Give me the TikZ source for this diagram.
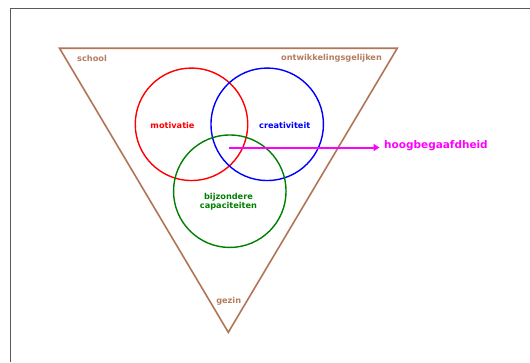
\documentclass[tikz,border=0pt]{standalone}
\usepackage{fontspec}
\setmainfont{DejaVu Sans}
\usetikzlibrary{arrows.meta}
\definecolor{frame}{RGB}{90,90,90}
\definecolor{tri}{RGB}{176,118,86}
\definecolor{trilabel}{RGB}{180,125,95}
\definecolor{dgreen}{RGB}{0,128,0}
\definecolor{mag}{RGB}{255,0,255}
\tikzset{
  venn/.style={draw, circle, line width=1.4pt, minimum size=112.5pt, inner sep=0pt},
  ctxlabel/.style={text=trilabel, font=\fontsize{8.2}{9}\selectfont\bfseries, inner sep=0pt},
  vennlabel/.style={font=\fontsize{8.2}{9.5}\selectfont\bfseries, inner sep=0pt, align=center},
  hoogarrow/.style={draw=mag, line width=2pt, -{Triangle[length=6pt,width=7pt]}},
}
\begin{document}
\begin{tikzpicture}[x=1pt,y=-1pt]
\useasboundingbox (0,0) rectangle (530,362);
\fill[white] (0,0) rectangle (530,362);
% page frame
\draw[frame, line width=1.2pt] (10.5,362) -- (10.5,8.5) -- (530,8.5);
% triangle
\coordinate (tl) at (59.5,48.2);
\coordinate (tr) at (397.3,48.2);
\coordinate (bt) at (228.3,332.3);
\draw[tri, line width=1.6pt, line join=miter] (tl) -- (tr) -- (bt) -- cycle;
% context labels
\node[ctxlabel] (school) at (92,58.7) {school};
\node[ctxlabel] (ontw) at (331.5,58.7) {ontwikkelingsgelijken};
\node[ctxlabel] (gezin) at (228.7,301.7) {gezin};
% circles
\node[venn, draw=red] (mot) at (191.5,124.3) {};
\node[venn, draw=blue] (cre) at (267.2,124.3) {};
\node[venn, draw=dgreen] (cap) at (229.8,191.2) {};
% circle labels
\node[vennlabel, text=red] (motl) at (172.5,125.7) {motivatie};
\node[vennlabel, text=blue] (crel) at (284.7,125.7) {creativiteit};
\node[vennlabel, text=dgreen] (capl) at (228.5,201.7) {bijzondere\\capaciteiten};
% arrow to hoogbegaafdheid
\coordinate (arrstart) at (229,147.5);
\coordinate (arrend) at (379.5,147.5);
\node[anchor=west, text=mag, font=\fontsize{10.5}{12}\selectfont\bfseries, inner sep=0pt] (hoog) at (384,146) {hoogbegaafdheid};
\draw[hoogarrow] (arrstart) -- (arrend);
\end{tikzpicture}
\end{document}
